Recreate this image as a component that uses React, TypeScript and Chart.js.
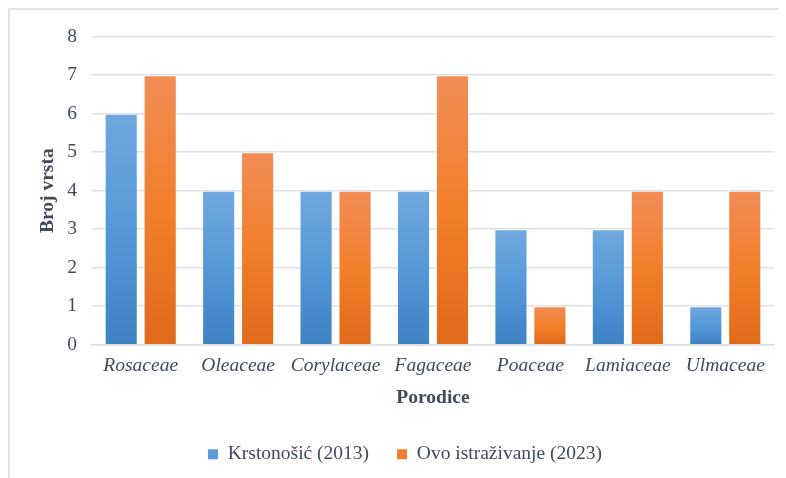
import React, { useEffect, useRef } from "react";
import { Chart, registerables } from "chart.js";

Chart.register(...registerables);

const categories = ["Rosaceae", "Oleaceae", "Corylaceae", "Fagaceae", "Poaceae", "Lamiaceae", "Ulmaceae"];
const krstonosic2013 = [6, 4, 4, 4, 3, 3, 1];
const ovoIstrazivanje2023 = [7, 5, 4, 7, 1, 4, 4];
const seriesLabels = ["Krstonošić (2013)", "Ovo istraživanje (2023)"];
const yTicks = [0, 1, 2, 3, 4, 5, 6, 7, 8];

const TEXT = "#404a5a";
const FONT = "'Liberation Serif', 'Times New Roman', serif";
const FS = 19.5;

function gradientFill(stops: string[], solid: string) {
  return (ctx: any) => {
    if (ctx.type !== "data") return solid;
    const chart = ctx.chart;
    const ys = chart.scales && chart.scales.y;
    if (!chart.chartArea || !ys) return solid;
    const top = ys.getPixelForValue(ctx.raw);
    const bottom = ys.getPixelForValue(0);
    if (!isFinite(top) || !isFinite(bottom) || top === bottom) return solid;
    const g = chart.ctx.createLinearGradient(0, top, 0, bottom);
    g.addColorStop(0, stops[0]);
    g.addColorStop(0.5, stops[1]);
    g.addColorStop(1, stops[2]);
    return g;
  };
}

export default function App() {
  const ref = useRef<HTMLCanvasElement | null>(null);
  useEffect(() => {
    if (!ref.current) return;
    const chart = new Chart(ref.current, {
      type: "bar",
      data: {
        labels: categories,
        datasets: [
          {
            label: seriesLabels[0],
            data: krstonosic2013,
            backgroundColor: gradientFill(["#70a8de", "#5598d8", "#3f82c4"], "#5b9bd5"),
            borderColor: "rgba(255,255,255,0.45)",
            borderWidth: 1,
            barPercentage: 0.85,
            categoryPercentage: 0.8,
          },
          {
            label: seriesLabels[1],
            data: ovoIstrazivanje2023,
            backgroundColor: gradientFill(["#f28d57", "#f17f2b", "#e1691a"], "#ed7d31"),
            borderColor: "rgba(255,255,255,0.45)",
            borderWidth: 1,
            barPercentage: 0.85,
            categoryPercentage: 0.8,
          },
        ],
      },
      options: {
        animation: false,
        responsive: true,
        maintainAspectRatio: false,
        layout: { padding: { top: 8, right: 12, left: 26, bottom: 4 } },
        plugins: {
          tooltip: { enabled: false },
          legend: {
            position: "bottom",
            labels: {
              color: TEXT,
              font: { family: FONT, size: FS },
              boxWidth: 10,
              boxHeight: 10,
              padding: 28,
              generateLabels: (c: any) => {
                const cols = ["#5b9bd5", "#ed7d31"];
                return c.data.datasets.map((d: any, i: number) => ({
                  text: d.label,
                  fillStyle: cols[i],
                  strokeStyle: cols[i],
                  lineWidth: 0,
                  hidden: false,
                  datasetIndex: i,
                  fontColor: TEXT,
                }));
              },
            },
          },
        },
        scales: {
          x: {
            grid: { display: false, drawTicks: false },
            border: { display: true, color: "#dde1e7", width: 1.5 },
            ticks: {
              color: TEXT,
              font: { family: FONT, size: FS, style: "italic" },
              padding: 9,
              maxRotation: 0,
            },
            title: {
              display: true,
              text: "Porodice",
              color: TEXT,
              font: { family: FONT, size: FS, weight: "bold" },
              padding: { top: 0, bottom: 7 },
            },
          },
          y: {
            min: 0,
            max: 8,
            afterBuildTicks: (axis: any) => {
              axis.ticks = yTicks.map((v) => ({ value: v }));
            },
            afterFit: (axis: any) => {
              axis.width = 56;
            },
            grid: { color: "#dde1e7", lineWidth: 1.5, drawTicks: false },
            border: { display: false },
            ticks: {
              color: TEXT,
              font: { family: FONT, size: FS },
              padding: 15,
            },
            title: {
              display: true,
              text: "Broj vrsta",
              color: TEXT,
              font: { family: FONT, size: FS, weight: "bold" },
              padding: { top: 0, bottom: 0 },
            },
          },
        },
      },
    });
    return () => chart.destroy();
  }, []);

  return (
    <div
      style={{
        width: 778,
        height: 470,
        boxSizing: "border-box",
        borderTop: "2px solid #dfe4ea",
        borderLeft: "2px solid #dfe4ea",
        background: "#fff",
        position: "relative",
      }}
    >
      <canvas ref={ref} />
    </div>
  );
}
